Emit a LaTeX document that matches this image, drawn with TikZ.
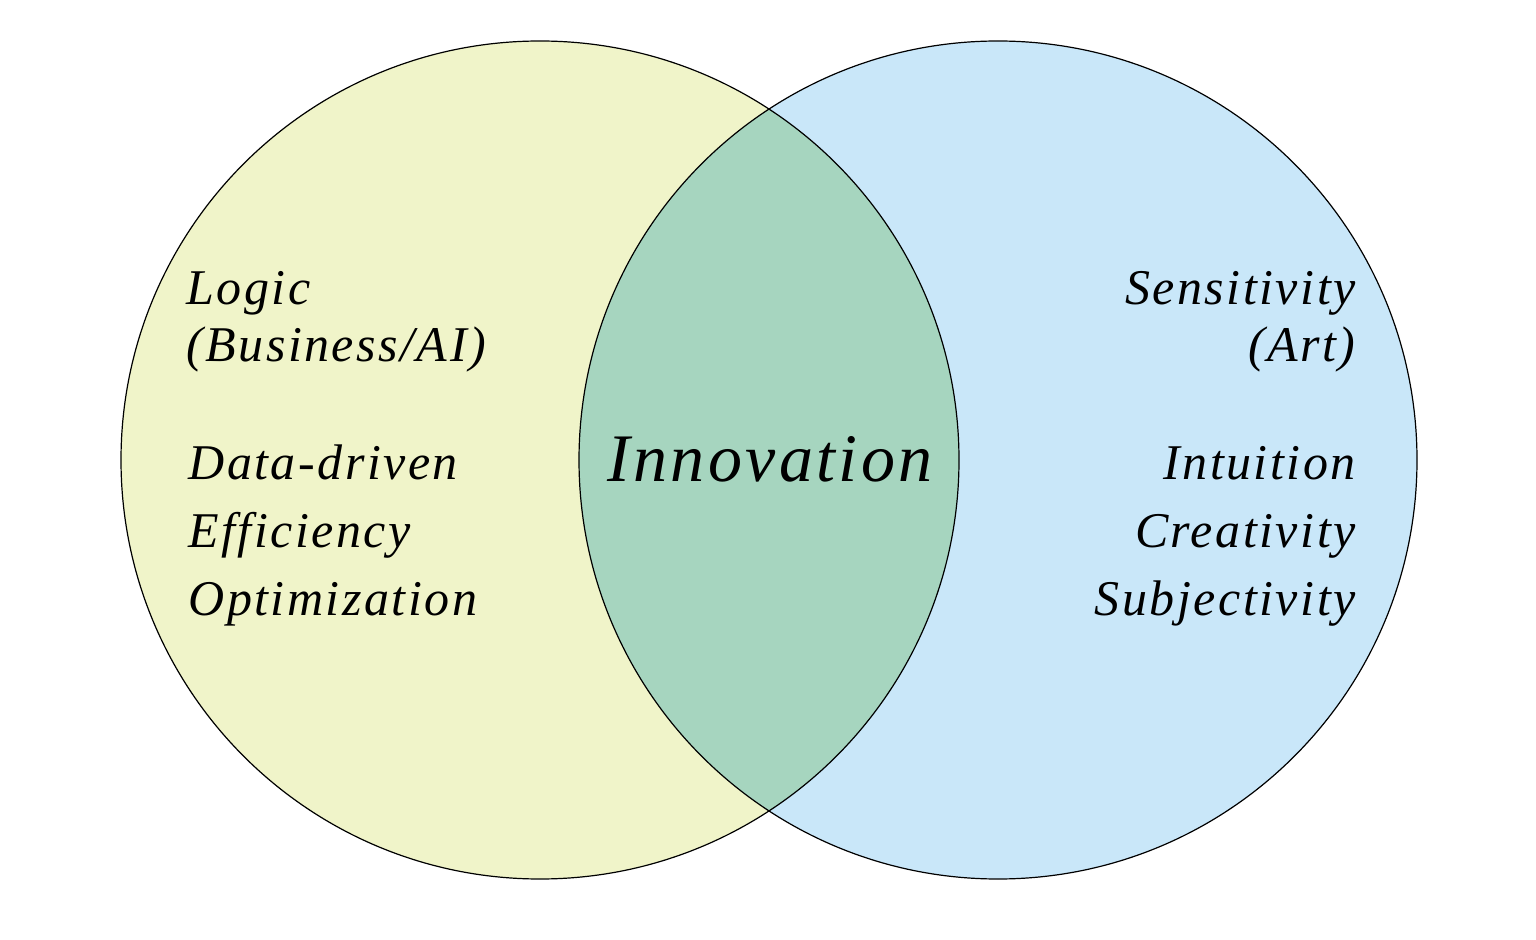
\documentclass[tikz,border=0pt]{standalone}
\usepackage{fontspec}
\setmainfont{Liberation Serif}
\newfontfamily\vennfont[LetterSpace=5]{Liberation Serif}
\usepackage{tikz}
\usetikzlibrary{positioning, calc}
\usepackage{xcolor}
\definecolor{logicfill}{HTML}{F0F4C9}
\definecolor{artfill}{HTML}{C9E7F9}
\definecolor{bothfill}{HTML}{A6D5BF}

\begin{document}
\begin{tikzpicture}[x=0.5pt, y=-0.5pt,
	disc/.style={circle, minimum size=419pt, inner sep=0pt},
	rim/.style={draw=black, line width=0.6pt},
	word/.style={font=\vennfont\itshape\fontsize{25}{30}\selectfont, inner sep=0pt}]
	\useasboundingbox[fill=white] (0,0) rectangle (1536,940);
	\node[disc, fill=logicfill] (logic) at (540,460) {};
	\node[disc, fill=artfill] (art) at (998,460) {};
	\begin{scope}
		\clip (logic.center) circle (209.5pt);
		\fill[bothfill] (art.center) circle (209.5pt);
	\end{scope}
	\draw[rim] (logic.center) circle (209.5pt);
	\draw[rim] (art.center) circle (209.5pt);
	% left side
	\node[word, anchor=base west] (l1) at (186,305) {Logic};
	\node[word, anchor=base west] (l2) at (186,362) {(Business/AI)};
	\node[word, anchor=base west] (l3) at (188,480) {Data-driven};
	\node[word, anchor=base west] (l4) at (188,548) {Efficiency};
	\node[word, anchor=base west] (l5) at (188,615) {Optimization};
	% right side
	\node[word, anchor=base east] (r1) at (1356,305) {Sensitivity};
	\node[word, anchor=base east] (r2) at (1356,362) {(Art)};
	\node[word, anchor=base east] (r3) at (1356,480) {Intuition};
	\node[word, anchor=base east] (r4) at (1356,548) {Creativity};
	\node[word, anchor=base east] (r5) at (1356,615) {Subjectivity};
	% middle
	\node[word, font=\vennfont\itshape\fontsize{34}{40}\selectfont, anchor=base] (mid) at (770,482) {Innovation};
\end{tikzpicture}
\end{document}
